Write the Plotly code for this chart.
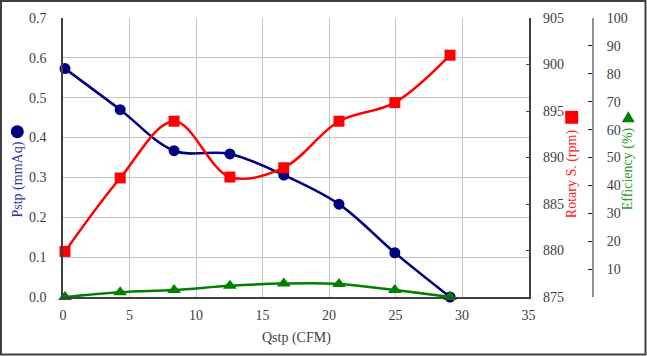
import plotly.graph_objects as go

# ---- data ----
qstp = [0.15, 4.3, 8.35, 12.55, 16.6, 20.75, 24.95, 29.1]
pstp = [0.573, 0.470, 0.367, 0.359, 0.306, 0.233, 0.111, 0.0]
rpm = [879.9, 887.8, 893.9, 887.9, 888.9, 893.9, 895.9, 901.0]
eff = [0.0, 1.7, 2.5, 4.0, 4.8, 4.7, 2.5, 0.0]

x_ticks = [0, 5, 10, 15, 20, 25, 30, 35]
pstp_ticks = [0.0, 0.1, 0.2, 0.3, 0.4, 0.5, 0.6, 0.7]
rpm_ticks = [875, 880, 885, 890, 895, 900, 905]
eff_ticks = [10, 20, 30, 40, 50, 60, 70, 80, 90, 100]

W, H = 647, 356
ML, MR, MT, MB = 63, 54, 18, 59
PW = W - ML - MR
PH = H - MT - MB
PLOT_RIGHT = 528.5


def px(x):
    return (x - ML) / PW


def py(y):
    return (H - MB - y) / PH


FONT = "Liberation Serif"
TICK = dict(family=FONT, size=14, color="#404040")
NAVY = "#000080"
RED = "#ff0000"
GREEN = "#008000"

fig = go.Figure()
fig.add_trace(go.Scatter(
    x=qstp, y=pstp, mode="lines+markers",
    line=dict(color=NAVY, width=2.5, shape="spline", smoothing=1),
    marker=dict(symbol="circle", size=11, color=NAVY),
    showlegend=False, cliponaxis=False))
fig.add_trace(go.Scatter(
    x=qstp, y=rpm, yaxis="y2", mode="lines+markers",
    line=dict(color=RED, width=2.5, shape="spline", smoothing=1),
    marker=dict(symbol="square", size=11, color=RED),
    showlegend=False, cliponaxis=False))
fig.add_trace(go.Scatter(
    x=qstp, y=eff, yaxis="y3", mode="lines+markers",
    line=dict(color=GREEN, width=2.5, shape="spline", smoothing=1),
    marker=dict(symbol="triangle-up", size=12, color=GREEN),
    showlegend=False, cliponaxis=False))

fig.update_layout(
    width=W, height=H,
    margin=dict(l=ML, r=MR, t=MT, b=MB),
    paper_bgcolor="white", plot_bgcolor="white",
    font=dict(family=FONT, size=14, color="#404040"),
    xaxis=dict(
        domain=[0, (PLOT_RIGHT - ML) / PW], range=[0, 35],
        tickvals=x_ticks, tickfont=TICK,
        showline=True, linecolor="#404040", linewidth=1.5,
        showgrid=True, gridcolor="#c4c4c4", gridwidth=1,
        zeroline=False, ticks="", ticklabelstandoff=4),
    yaxis=dict(
        range=[0, 0.7], tickvals=pstp_ticks, tickformat=".1f", tickfont=TICK,
        showline=True, linecolor="#404040", linewidth=1.5,
        showgrid=True, gridcolor="#c4c4c4", gridwidth=1,
        zeroline=False, ticks="", ticklabelstandoff=12),
    yaxis2=dict(
        range=[875, 905], tickvals=rpm_ticks, tickfont=TICK,
        overlaying="y", side="right", anchor="x",
        showline=True, linecolor="#404040", linewidth=1.5,
        showgrid=False, zeroline=False,
        ticks="inside", ticklen=3, tickcolor="#404040", ticklabelstandoff=10),
    yaxis3=dict(
        range=[0, 100], tickvals=eff_ticks, tickfont=TICK,
        overlaying="y", side="right", anchor="free", position=1.0,
        showline=True, linecolor="#909090", linewidth=2,
        showgrid=False, zeroline=False,
        ticks="inside", ticklen=4, tickcolor="#202020", ticklabelstandoff=10),
)

# axis titles as rotated annotations
fig.add_annotation(x=px(17.5), y=py(180), xref="paper", yref="paper",
                   text="Pstp (mmAq)", textangle=-90, showarrow=False,
                   font=dict(family=FONT, size=14, color="#3030a0"),
                   xanchor="center", yanchor="middle")
fig.add_annotation(x=px(571.7), y=py(173.5), xref="paper", yref="paper",
                   text="Rotary S. (rpm)", textangle=-90, showarrow=False,
                   font=dict(family=FONT, size=14, color="#ff2020"),
                   xanchor="center", yanchor="middle")
fig.add_annotation(x=px(628.3), y=py(169), xref="paper", yref="paper",
                   text="Efficiency (%)", textangle=-90, showarrow=False,
                   font=dict(family=FONT, size=14, color="#2a9a2a"),
                   xanchor="center", yanchor="middle")
fig.add_annotation(x=px(296), y=py(338), xref="paper", yref="paper",
                   text="Qstp (CFM)", showarrow=False,
                   font=dict(family=FONT, size=14, color="#404040"),
                   xanchor="center", yanchor="middle")

# legend-like symbols next to titles
fig.add_shape(type="circle", xref="paper", yref="paper",
              xsizemode="pixel", ysizemode="pixel",
              xanchor=px(17.3), yanchor=py(131.7),
              x0=-6.5, x1=6.5, y0=-6.5, y1=6.5,
              fillcolor=NAVY, line=dict(width=0))
fig.add_shape(type="rect", xref="paper", yref="paper",
              xsizemode="pixel", ysizemode="pixel",
              xanchor=px(571.7), yanchor=py(117.3),
              x0=-6.5, x1=6.5, y0=-6.5, y1=6.5,
              fillcolor=RED, line=dict(width=0))
fig.add_shape(type="path", xref="paper", yref="paper",
              xsizemode="pixel", ysizemode="pixel",
              xanchor=px(628.3), yanchor=py(117.3),
              path="M -6.5,-5 L 6.5,-5 L 0,6 Z",
              fillcolor=GREEN, line=dict(width=0))

# outer frame
fig.add_shape(type="rect", xref="paper", yref="paper",
              x0=px(1), x1=px(645.5), y0=py(354.5), y1=py(1),
              line=dict(color="#404040", width=2), fillcolor="rgba(0,0,0,0)")

fig.write_html("out.html",
               config={"displayModeBar": False},
               post_script="document.body.style.margin='0';document.body.style.overflow='hidden';")
